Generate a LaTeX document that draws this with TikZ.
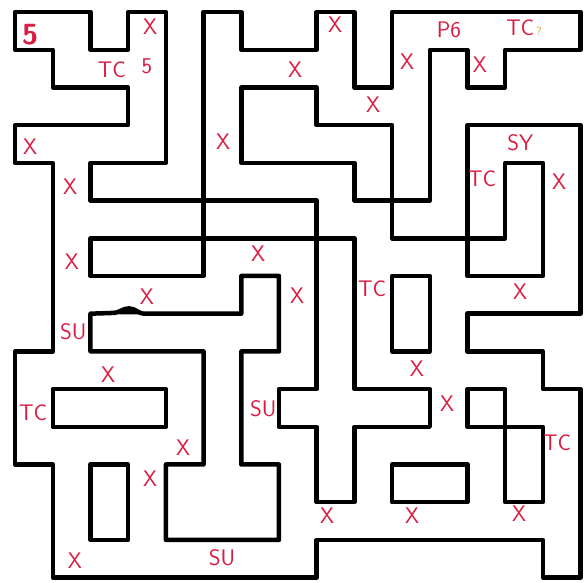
\documentclass[tikz,border=0pt]{standalone}
\usetikzlibrary{positioning}
\definecolor{fg}{rgb}{0,0,0}
\definecolor{ink}{RGB}{218,28,66}
\definecolor{faint}{RGB}{230,170,60}
\tikzstyle{wall}=[draw=fg, line width=3.4pt, line join=round, line cap=round]
\tikzstyle{tag}=[text=ink, font=\sffamily\fontsize{17}{19}\selectfont, inner sep=0pt]
\tikzstyle{bigtag}=[tag, font=\sffamily\bfseries\fontsize{22}{24}\selectfont]
\tikzstyle{qmark}=[text=faint, font=\sffamily\fontsize{9}{10}\selectfont, inner sep=0pt]

\begin{document}
\begin{tikzpicture}[x=1cm, y=-1cm]

    \useasboundingbox (-0.40,-0.32) rectangle (15.17,15.12);

    % outer wall and everything joined to it
    \draw[wall] (2,5) -- (2,4) -- (4,4) -- (4,0) -- (3,0) -- (3,1) -- (2,1) -- (2,0)
        -- (0,0) -- (0,1) -- (1,1) -- (1,2) -- (3,2) -- (3,3) -- (0,3) -- (0,4)
        -- (1,4) -- (1,9) -- (0,9) -- (0,12) -- (1,12) -- (1,15) -- (8,15) -- (8,14)
        -- (14,14) -- (14,15) -- (15,15) -- (15,10) -- (14,10) -- (14,9) -- (12,9)
        -- (12,8) -- (15,8) -- (15,3) -- (12,3) -- (12,7) -- (14,7) -- (14,4)
        -- (13,4) -- (13,6) -- (10,6) -- (10,3) -- (8,3) -- (8,2) -- (6,2) -- (6,4)
        -- (9,4) -- (9,5) -- (11,5) -- (11,1) -- (12,1) -- (12,2) -- (13,2) -- (13,1)
        -- (15,1) -- (15,0) -- (10,0) -- (10,2) -- (9,2) -- (9,0) -- (8,0) -- (8,1)
        -- (6,1) -- (6,0) -- (5,0) -- (5,7) -- (2,7) -- (2,6) -- (9,6) -- (9,10)
        -- (11,10) -- (11,11) -- (9,11) -- (9,13) -- (8,13) -- (8,11) -- (7,11)
        -- (7,10) -- (8,10) -- (8,5) -- cycle;

    \draw[wall] (2,8) -- (2,9) -- (5,9) -- (5,12) -- (4,12) -- (4,14) -- (7,14)
        -- (7,12) -- (6,12) -- (6,9) -- (7,9) -- (7,7) -- (6,7) -- (6,8)
        -- (3.45,8.0) .. controls (3.25,8.0) and (3.2,7.86) .. (3.02,7.86)
        .. controls (2.85,7.86) and (2.8,7.97) .. (2.6,7.98) -- cycle;
    % ink blot on the wall
    \fill[fg] (3.35,8.02) .. controls (3.2,7.95) and (3.15,7.88) .. (3.02,7.88)
        .. controls (2.9,7.88) and (2.85,7.96) .. (2.75,8.02) -- cycle;

    % islands
    \draw[wall] (1,10) rectangle (4,11);
    \draw[wall] (2,12) rectangle (3,14);
    \draw[wall] (10,7) rectangle (11,9);
    \draw[wall] (10,12) rectangle (12,13);
    \draw[wall] (12,10) rectangle (13,11);
    \draw[wall] (13,11) rectangle (14,13);

    % marks
    \node[bigtag] (start) at (0.40,0.61) {5};
    \node[tag] (x1) at (3.58,0.40) {X};
    \node[tag] (x2) at (8.49,0.34) {X};
    \node[tag] (p6) at (11.51,0.47) {P6};
    \node[tag] (tc1) at (13.40,0.42) {TC};
    \node[qmark, right=1pt of tc1.south east, anchor=south west] (q1) {?};
    \node[tag] (tc2) at (2.57,1.53) {TC};
    \node[tag] (five) at (3.50,1.45) {5};
    \node[tag] (x3) at (7.43,1.53) {X};
    \node[tag] (x4) at (10.40,1.32) {X};
    \node[tag] (x5) at (12.33,1.40) {X};
    \node[tag] (x6) at (9.50,2.45) {X};
    \node[tag] (x7) at (0.40,3.56) {X};
    \node[tag] (x8) at (5.52,3.43) {X};
    \node[tag] (sy) at (13.40,3.46) {SY};
    \node[tag] (tc3) at (12.39,4.43) {TC};
    \node[tag] (x9) at (14.43,4.49) {X};
    \node[tag] (x10) at (1.46,4.62) {X};
    \node[tag] (x11) at (1.51,6.62) {X};
    \node[tag] (x12) at (6.45,6.41) {X};
    \node[tag] (x13) at (3.50,7.55) {X};
    \node[tag] (x14) at (7.48,7.52) {X};
    \node[tag] (tc4) at (9.47,7.34) {TC};
    \node[tag] (x15) at (13.40,7.41) {X};
    \node[tag] (su1) at (1.54,8.47) {SU};
    \node[tag] (x16) at (2.47,9.63) {X};
    \node[tag] (x17) at (10.66,9.45) {X};
    \node[tag] (tc5) at (0.48,10.63) {TC};
    \node[tag] (su2) at (6.58,10.53) {SU};
    \node[tag] (x18) at (11.46,10.40) {X};
    \node[tag] (tc6) at (14.38,11.42) {TC};
    \node[tag] (x19) at (4.46,11.56) {X};
    \node[tag] (x20) at (3.58,12.37) {X};
    \node[tag] (x21) at (8.28,13.35) {X};
    \node[tag] (x22) at (10.53,13.35) {X};
    \node[tag] (x23) at (13.37,13.30) {X};
    \node[tag] (x24) at (1.59,14.54) {X};
    \node[tag] (su3) at (5.49,14.46) {SU};

\end{tikzpicture}
\end{document}
